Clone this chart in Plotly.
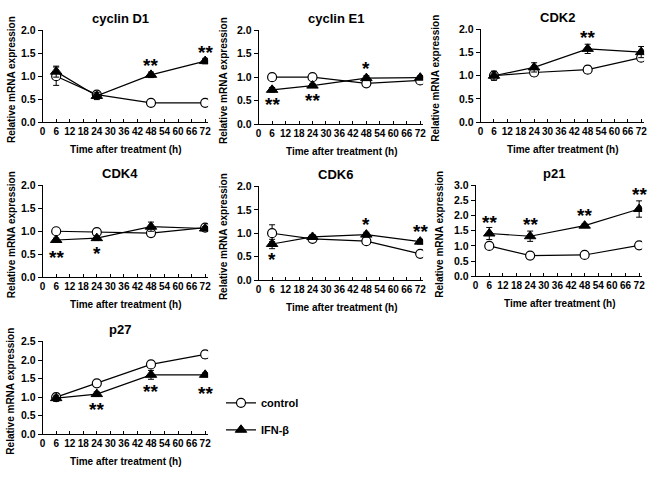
import plotly.graph_objects as go

hours = [6, 24, 48, 72]
x_ticks = list(range(0, 73, 6))

genes = ["cyclin D1", "cyclin E1", "CDK2", "CDK4", "CDK6", "p21", "p27"]

control = {
    "cyclin D1": [1.0, 0.6, 0.42, 0.42],
    "cyclin E1": [1.0, 1.0, 0.87, 0.93],
    "CDK2": [1.0, 1.07, 1.13, 1.39],
    "CDK4": [1.0, 0.98, 0.96, 1.08],
    "CDK6": [1.0, 0.88, 0.83, 0.56],
    "p21": [1.0, 0.68, 0.7, 1.02],
    "p27": [1.0, 1.37, 1.88, 2.15],
}
control_err = {
    "cyclin D1": [0.2, 0.05, 0.02, 0.02],
    "cyclin E1": [0.03, 0.03, 0.03, 0.03],
    "CDK2": [0.05, 0.08, 0.08, 0.05],
    "CDK4": [0.03, 0.05, 0.04, 0.03],
    "CDK6": [0.18, 0.03, 0.03, 0.03],
    "p21": [0.04, 0.03, 0.03, 0.05],
    "p27": [0.1, 0.07, 0.08, 0.1],
}
ifn = {
    "cyclin D1": [1.1, 0.57, 1.03, 1.33],
    "cyclin E1": [0.73, 0.82, 0.98, 0.99],
    "CDK2": [1.0, 1.18, 1.58, 1.51],
    "CDK4": [0.81, 0.85, 1.1, 1.06],
    "CDK6": [0.77, 0.92, 0.97, 0.82],
    "p21": [1.41, 1.32, 1.67, 2.22],
    "p27": [0.97, 1.08, 1.6, 1.6],
}
ifn_err = {
    "cyclin D1": [0.12, 0.08, 0.06, 0.06],
    "cyclin E1": [0.05, 0.04, 0.05, 0.04],
    "CDK2": [0.1, 0.1, 0.1, 0.12],
    "CDK4": [0.04, 0.05, 0.1, 0.04],
    "CDK6": [0.1, 0.05, 0.05, 0.05],
    "p21": [0.2, 0.17, 0.06, 0.27],
    "p27": [0.08, 0.06, 0.12, 0.05],
}
y_max = {"cyclin D1": 2.0, "cyclin E1": 2.0, "CDK2": 2.0, "CDK4": 2.0,
         "CDK6": 2.0, "p21": 3.0, "p27": 2.5}

# significance marks: (hour, y position, text)
stars = {
    "cyclin D1": [(48, 1.29, "**"), (72, 1.59, "**")],
    "cyclin E1": [(6, 0.48, "**"), (24, 0.57, "**"), (48, 1.26, "*")],
    "CDK2": [(48, 1.89, "**")],
    "CDK4": [(6, 0.5, "**"), (24, 0.58, "*")],
    "CDK6": [(6, 0.5, "*"), (48, 1.25, "*"), (72, 1.11, "**")],
    "p21": [(6, 1.86, "**"), (24, 1.8, "**"), (48, 2.1, "**"), (72, 2.8, "**")],
    "p27": [(24, 0.75, "**"), (48, 1.24, "**"), (72, 1.17, "**")],
}

W, H = 657, 484
# plot areas in pixels: left, right, top, bottom
boxes = {
    "cyclin D1": (40, 207, 25, 119),
    "cyclin E1": (258, 424, 25, 121),
    "CDK2": (482, 647, 24, 119),
    "CDK4": (40, 207, 184, 278),
    "CDK6": (258, 424, 185, 281),
    "p21": (477, 645, 184, 277),
    "p27": (40, 207, 344, 439),
}
ytitle_x = {"cyclin D1": 8, "cyclin E1": 222, "CDK2": 437, "CDK4": 8,
            "CDK6": 222, "p21": 441, "p27": 8}

FONT = "Liberation Sans"
fig = go.Figure()
annotations = []

for i, g in enumerate(genes):
    n = i + 1
    xa = "x" if n == 1 else f"x{n}"
    ya = "y" if n == 1 else f"y{n}"
    l, r, t, b = boxes[g]
    first = (n == 1)
    fig.add_trace(go.Scatter(
        x=hours, y=control[g], xaxis=xa, yaxis=ya, mode="lines+markers",
        name="control", legendgroup="c", showlegend=first,
        line=dict(color="black", width=1.2),
        marker=dict(symbol="circle", size=9, color="white",
                    line=dict(color="black", width=1.2)),
        error_y=dict(type="data", array=control_err[g], color="black",
                     thickness=1, width=3),
    ))
    fig.add_trace(go.Scatter(
        x=hours, y=ifn[g], xaxis=xa, yaxis=ya, mode="lines+markers",
        name="IFN-β", legendgroup="i", showlegend=first,
        line=dict(color="black", width=1.2),
        marker=dict(symbol="triangle-up", size=10, color="black",
                    line=dict(color="black", width=1)),
        error_y=dict(type="data", array=ifn_err[g], color="black",
                     thickness=1, width=3),
    ))
    fig.update_layout(**{
        ("xaxis" if n == 1 else f"xaxis{n}"): dict(
            domain=[l / W, r / W], anchor=ya, range=[0, 73.3],
            tickmode="array", tickvals=x_ticks, ticktext=[str(v) for v in x_ticks],
            tickangle=0, ticks="inside", ticklen=3, tickcolor="black",
            showline=True, linecolor="black", linewidth=1, showgrid=False,
            zeroline=False,
            tickfont=dict(family=FONT, size=10, color="black", weight="bold"),
        ),
        ("yaxis" if n == 1 else f"yaxis{n}"): dict(
            domain=[1 - b / H, 1 - t / H], anchor=xa, range=[0, y_max[g]],
            tickmode="linear", tick0=0, dtick=0.5, tickformat=".1f",
            ticks="outside", ticklen=4, tickcolor="black",
            showline=True, linecolor="black", linewidth=1, showgrid=False,
            zeroline=False,
            tickfont=dict(family=FONT, size=10.5, color="black", weight="bold"),
        ),
    })
    cx = (l + r) / 2
    annotations.append(dict(
        text=g, xref="paper", yref="paper", x=(cx - 5) / W, y=1 - (t - 12) / H,
        showarrow=False, xanchor="center", yanchor="middle",
        font=dict(family=FONT, size=13, color="black", weight="bold")))
    annotations.append(dict(
        text="Time after treatment (h)", xref="paper", yref="paper",
        x=(cx + 1) / W, y=1 - (b + 28) / H, showarrow=False,
        xanchor="center", yanchor="middle",
        font=dict(family=FONT, size=10, color="black", weight="bold")))
    annotations.append(dict(
        text="Relative mRNA expression", xref="paper", yref="paper",
        x=ytitle_x[g] / W, y=1 - ((t + b) / 2 + 3) / H, showarrow=False,
        textangle=-90, xanchor="center", yanchor="middle",
        font=dict(family=FONT, size=10, color="black", weight="bold")))
    for (hx, hy, s) in stars[g]:
        annotations.append(dict(
            text=s, xref=xa, yref=ya, x=hx, y=hy, showarrow=False,
            xanchor="center", yanchor="middle", yshift=-3,
            font=dict(family=FONT, size=19, color="black", weight="bold")))

fig.update_layout(
    width=W, height=H, margin=dict(l=0, r=0, t=0, b=0),
    paper_bgcolor="white", plot_bgcolor="white",
    annotations=annotations,
    showlegend=True,
    legend=dict(x=220 / W, y=1 - 392 / H, xanchor="left", yanchor="top",
                font=dict(family=FONT, size=11, color="black", weight="bold"),
                itemwidth=30, tracegroupgap=8, bgcolor="rgba(0,0,0,0)"),
)

fig.write_html("out.html")
